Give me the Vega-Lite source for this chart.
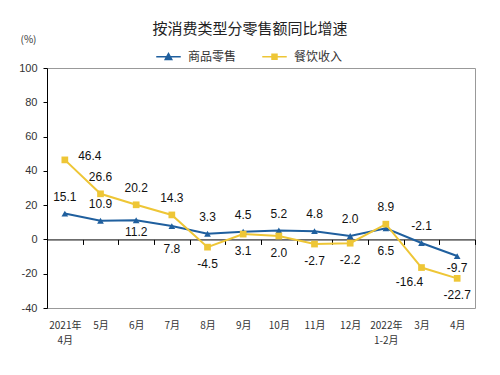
{
  "$schema": "https://vega.github.io/schema/vega-lite/v6.json",
  "autosize": "none",
  "width": 428,
  "height": 240,
  "padding": {"left": 47, "top": 68, "right": 25, "bottom": 67},
  "background": "white",
  "title": {
    "text": "按消费类型分零售额同比增速",
    "anchor": "middle",
    "dx": -11,
    "offset": -3,
    "font": "Noto Sans CJK SC",
    "fontSize": 15,
    "fontWeight": "normal",
    "color": "#222"
  },
  "config": {
    "view": {"stroke": "#999", "strokeWidth": 1},
    "font": "Liberation Sans",
    "locale": {"number": {"decimal": ".", "thousands": ",", "grouping": [3], "currency": ["", ""], "minus": "-"}}
  },
  "data": {
    "values": [
      {"month": "2021年\n4月", "series": "商品零售", "value": 15.1},
      {"month": "5月", "series": "商品零售", "value": 10.9},
      {"month": "6月", "series": "商品零售", "value": 11.2},
      {"month": "7月", "series": "商品零售", "value": 7.8},
      {"month": "8月", "series": "商品零售", "value": 3.3},
      {"month": "9月", "series": "商品零售", "value": 4.5},
      {"month": "10月", "series": "商品零售", "value": 5.2},
      {"month": "11月", "series": "商品零售", "value": 4.8},
      {"month": "12月", "series": "商品零售", "value": 2.0},
      {"month": "2022年\n1-2月", "series": "商品零售", "value": 6.5},
      {"month": "3月", "series": "商品零售", "value": -2.1},
      {"month": "4月", "series": "商品零售", "value": -9.7},
      {"month": "2021年\n4月", "series": "餐饮收入", "value": 46.4},
      {"month": "5月", "series": "餐饮收入", "value": 26.6},
      {"month": "6月", "series": "餐饮收入", "value": 20.2},
      {"month": "7月", "series": "餐饮收入", "value": 14.3},
      {"month": "8月", "series": "餐饮收入", "value": -4.5},
      {"month": "9月", "series": "餐饮收入", "value": 3.1},
      {"month": "10月", "series": "餐饮收入", "value": 2.0},
      {"month": "11月", "series": "餐饮收入", "value": -2.7},
      {"month": "12月", "series": "餐饮收入", "value": -2.2},
      {"month": "2022年\n1-2月", "series": "餐饮收入", "value": 8.9},
      {"month": "3月", "series": "餐饮收入", "value": -16.4},
      {"month": "4月", "series": "餐饮收入", "value": -22.7}
    ]
  },
  "encoding": {
    "x": {
      "field": "month",
      "type": "nominal",
      "sort": null,
      "scale": {"paddingInner": 0, "paddingOuter": 0},
      "axis": {
        "title": null,
        "labelAngle": 0,
        "offset": -68.57,
        "domainColor": "#000",
        "domainWidth": 1,
        "tickColor": "#000",
        "tickSize": 5,
        "tickBand": "extent",
        "labelPadding": 76,
        "labelFont": "Noto Sans CJK SC",
        "labelFontSize": 10,
        "labelColor": "#333",
        "labelLineHeight": 15,
        "labelExpr": "split(datum.label, '\\n')",
        "grid": false
      }
    },
    "y": {
      "field": "value",
      "type": "quantitative",
      "scale": {"domain": [-40, 100], "nice": false},
      "axis": {
        "values": [-40, -20, 0, 20, 40, 60, 80, 100],
        "grid": false,
        "title": "(%)",
        "titleAngle": 0,
        "titleX": -19,
        "titleY": -29,
        "titleAlign": "center",
        "titleBaseline": "middle",
        "titleFont": "Noto Sans CJK SC",
        "titleFontSize": 10,
        "titleFontWeight": "normal",
        "titleColor": "#333",
        "domainColor": "#000",
        "tickColor": "#000",
        "tickSize": 4,
        "labelPadding": 6,
        "labelFontSize": 11,
        "labelColor": "#333"
      }
    },
    "color": {
      "field": "series",
      "type": "nominal",
      "sort": ["商品零售", "餐饮收入"],
      "scale": {"domain": ["商品零售", "餐饮收入"], "range": ["#1F5F9E", "#EEC636"]},
      "legend": {
        "title": null,
        "orient": "none",
        "direction": "horizontal",
        "legendX": 108,
        "legendY": -25,
        "columnPadding": 22,
        "symbolSize": 600,
        "symbolStrokeWidth": 1.6,
        "labelFont": "Noto Sans CJK SC",
        "labelFontSize": 12,
        "labelColor": "#333",
        "labelOffset": 6,
        "encode": {
          "symbols": {
            "update": {
              "shape": {"signal": "datum.value === '商品零售' ? 'M-1,0L1,0M-0.26,0.22L0,-0.26L0.26,0.22Z' : 'M-1,0L1,0M-0.2,-0.2L0.2,-0.2L0.2,0.2L-0.2,0.2Z'"},
              "fill": {"signal": "datum.value === '商品零售' ? '#1F5F9E' : '#EEC636'"},
              "fillOpacity": {"value": 1}
            }
          }
        }
      }
    }
  },
  "layer": [
    {
      "mark": {"type": "line", "strokeWidth": 2}
    },
    {
      "transform": [{"filter": "datum.series === '商品零售'"}],
      "mark": {"type": "point", "shape": "triangle-up", "filled": true, "opacity": 1, "size": 45}
    },
    {
      "transform": [{"filter": "datum.series === '餐饮收入'"}],
      "mark": {"type": "point", "shape": "square", "filled": true, "opacity": 1, "size": 45}
    },
    {
      "transform": [
        {"filter": "(datum.series === '商品零售' && indexof(['6月','7月','2022年\\n1-2月','4月'], datum.month) < 0) || (datum.series === '餐饮收入' && indexof(['5月','6月','7月','2022年\\n1-2月'], datum.month) >= 0)"}
      ],
      "mark": {"type": "text", "dy": -17, "fontSize": 12, "font": "Liberation Sans"},
      "encoding": {
        "text": {"field": "value", "type": "quantitative", "format": ".1f"},
        "color": {"value": "#111"}
      }
    },
    {
      "transform": [
        {"filter": "datum.series === '商品零售' && indexof(['6月','4月'], datum.month) >= 0"}
      ],
      "mark": {"type": "text", "dy": 12, "fontSize": 12, "font": "Liberation Sans"},
      "encoding": {
        "text": {"field": "value", "type": "quantitative", "format": ".1f"},
        "color": {"value": "#111"}
      }
    },
    {
      "transform": [
        {"filter": "datum.series === '商品零售' && indexof(['7月','2022年\\n1-2月'], datum.month) >= 0"}
      ],
      "mark": {"type": "text", "dy": 23, "fontSize": 12, "font": "Liberation Sans"},
      "encoding": {
        "text": {"field": "value", "type": "quantitative", "format": ".1f"},
        "color": {"value": "#111"}
      }
    },
    {
      "transform": [
        {"filter": "datum.series === '餐饮收入' && indexof(['2021年\\n4月','5月','6月','7月','2022年\\n1-2月','3月'], datum.month) < 0"}
      ],
      "mark": {"type": "text", "dy": 17, "fontSize": 12, "font": "Liberation Sans"},
      "encoding": {
        "text": {"field": "value", "type": "quantitative", "format": ".1f"},
        "color": {"value": "#111"}
      }
    },
    {
      "transform": [
        {"filter": "datum.series === '餐饮收入' && datum.month === '3月'"}
      ],
      "mark": {"type": "text", "dx": -12, "dy": 14, "fontSize": 12, "font": "Liberation Sans"},
      "encoding": {
        "text": {"field": "value", "type": "quantitative", "format": ".1f"},
        "color": {"value": "#111"}
      }
    },
    {
      "transform": [
        {"filter": "datum.series === '餐饮收入' && datum.month === '2021年\\n4月'"}
      ],
      "mark": {"type": "text", "dx": 25, "dy": -4, "fontSize": 12, "font": "Liberation Sans"},
      "encoding": {
        "text": {"field": "value", "type": "quantitative", "format": ".1f"},
        "color": {"value": "#111"}
      }
    }
  ]
}
